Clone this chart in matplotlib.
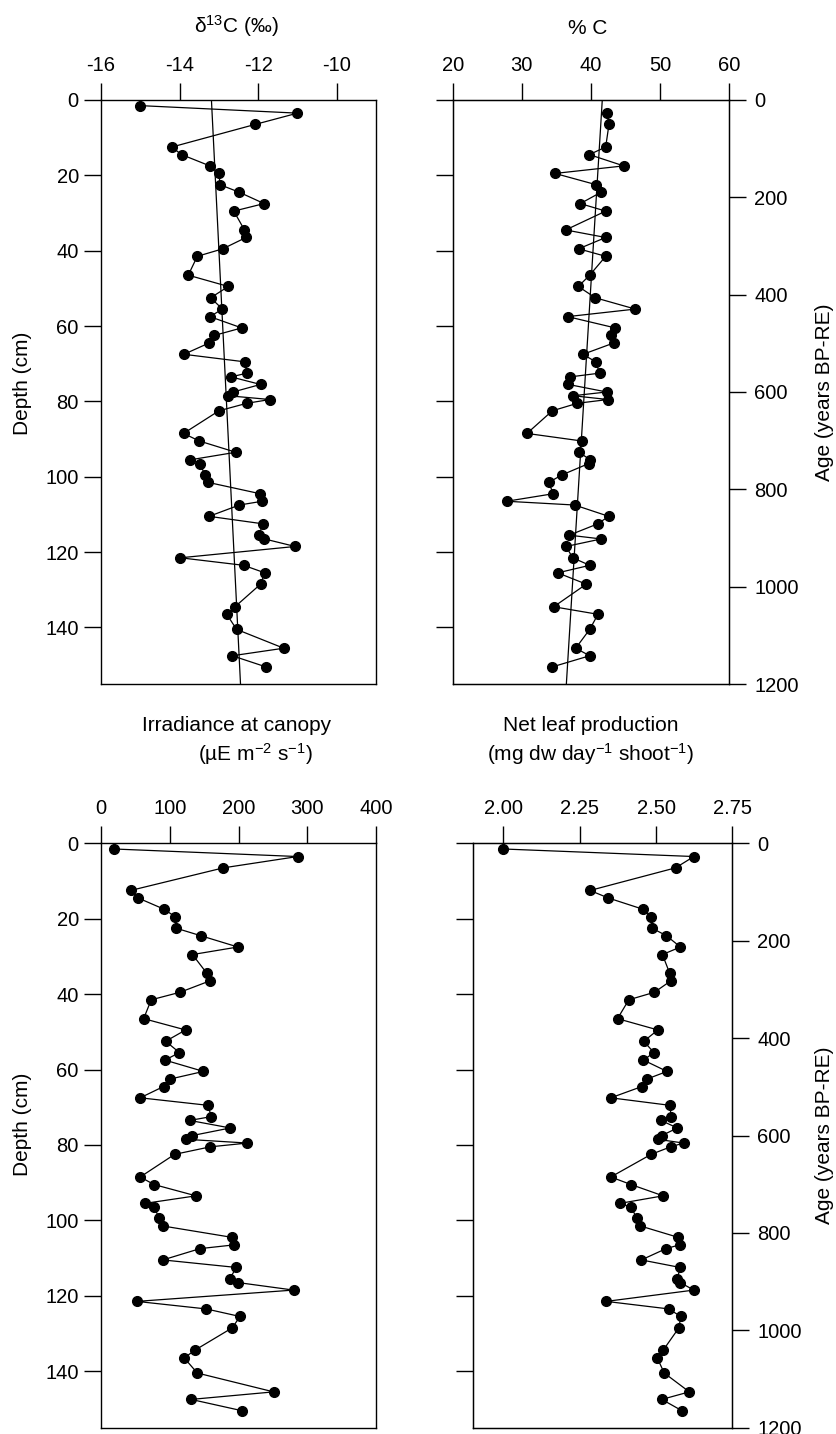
import numpy as np
import matplotlib
matplotlib.use('Agg')
import matplotlib.pyplot as plt

plt.rcParams['font.family'] = ['Liberation Sans', 'DejaVu Sans']
plt.rcParams['mathtext.fontset'] = 'custom'
plt.rcParams['mathtext.rm'] = 'Liberation Sans'
plt.rcParams['mathtext.it'] = 'Liberation Sans:italic'
plt.rcParams['axes.unicode_minus'] = False
plt.rcParams['font.size'] = 15
plt.rcParams['xtick.labelsize'] = 14.5
plt.rcParams['ytick.labelsize'] = 14.5

# sample depths (cm), shared by all panels
depth = [1.5, 3.5, 6.5, 12.5, 14.5, 17.5, 19.5, 22.5, 24.5, 27.5, 29.5, 34.5, 36.5,
         39.5, 41.5, 46.5, 49.5, 52.5, 55.5, 57.5, 60.5, 62.5, 64.5, 67.5, 69.5,
         72.5, 73.5, 75.5, 77.5, 78.5, 79.5, 80.5, 82.5, 88.5, 90.5, 93.5, 95.5,
         96.5, 99.5, 101.5, 104.5, 106.5, 107.5, 110.5, 112.5, 115.5, 116.5, 118.5,
         121.5, 123.5, 125.5, 128.5, 134.5, 136.5, 140.5, 145.5, 147.5, 150.5]

d13c = [-15.01, -11.0, -12.08, -14.2, -13.95, -13.23, -13.0, -12.97, -12.48, -11.85,
        -12.62, -12.35, -12.31, -12.9, -13.55, -13.78, -12.76, -13.21, -12.91, -13.23,
        -12.42, -13.12, -13.25, -13.89, -12.34, -12.29, -12.69, -11.94, -12.64, -12.76,
        -11.70, -12.29, -13.0, -13.9, -13.5, -12.57, -13.73, -13.49, -13.35, -13.27,
        -11.95, -11.9, -12.48, -13.25, -11.87, -11.99, -11.84, -11.06, -13.98, -12.37,
        -11.83, -11.94, -12.59, -12.80, -12.55, -11.35, -12.66, -11.79]

# %C has no value for the first depth
pct_c = [42.33, 42.62, 42.14, 39.77, 44.75, 34.8, 40.78, 41.46, 38.47, 42.14, 36.35,
         42.14, 38.23, 42.14, 39.83, 38.18, 40.64, 46.43, 36.64, 43.53, 42.95, 43.3,
         38.86, 40.7, 41.27, 36.98, 36.73, 42.29, 37.41, 42.48, 38.04, 34.41, 30.75,
         38.67, 38.28, 39.91, 39.68, 35.82, 33.89, 34.56, 27.81, 37.65, 42.58, 40.98,
         36.87, 41.5, 36.4, 37.37, 39.83, 35.2, 39.33, 34.62, 41.03, 39.83, 37.8,
         39.83, 34.33]

irradiance = [19, 286, 178, 43, 54, 92, 108, 109, 145, 199, 133, 154, 158, 115, 73, 62,
              123, 94, 114, 93, 149, 101, 91, 57, 156, 160, 129, 188, 133, 123, 213, 159,
              107, 57, 77, 138, 64, 77, 85, 90, 190, 194, 144, 90, 197, 187, 199, 280, 52,
              153, 202, 191, 136, 121, 140, 251, 131, 205]

leaf_prod = [2.00, 2.624, 2.564, 2.284, 2.344, 2.458, 2.485, 2.487, 2.534, 2.58, 2.521,
             2.545, 2.548, 2.495, 2.411, 2.374, 2.506, 2.46, 2.493, 2.459, 2.536, 2.471,
             2.454, 2.352, 2.546, 2.549, 2.516, 2.57, 2.519, 2.505, 2.59, 2.548, 2.484,
             2.352, 2.418, 2.523, 2.382, 2.418, 2.438, 2.449, 2.572, 2.577, 2.533, 2.452,
             2.579, 2.57, 2.579, 2.624, 2.337, 2.542, 2.581, 2.575, 2.523, 2.504, 2.527,
             2.609, 2.519, 2.585]

# fitted trend lines (top panels)
trend_depth = [0, 155]
d13c_trend = [-13.19, -12.45]
pct_c_trend = [41.65, 36.45]

depth_ticks = [0, 20, 40, 60, 80, 100, 120, 140]
age_ticks = [0, 200, 400, 600, 800, 1000, 1200]

fig = plt.figure(figsize=(8.37, 14.34), dpi=100)


def setup(ax, xlim, xticks, left_labels=True):
    ax.set_xlim(xlim)
    ax.set_ylim(155, 0)
    ax.xaxis.tick_top()
    ax.set_xticks(xticks)
    ax.set_yticks(depth_ticks)
    ax.tick_params(axis='x', direction='out', length=12, width=1, pad=6)
    ax.tick_params(axis='y', direction='out', length=12, width=1, pad=4,
                   labelleft=left_labels)
    for s in ax.spines.values():
        s.set_linewidth(1)


def add_age(ax, xpos):
    axr = ax.twinx()
    axr.set_ylim(1200, 0)
    axr.set_yticks(age_ticks)
    axr.tick_params(axis='y', direction='out', length=12, width=1, pad=6)
    axr.set_ylabel('Age (years BP-RE)')
    axr.yaxis.set_label_coords(xpos, 0.5)
    return axr


line_kw = dict(color='k', lw=0.9, marker='o', ms=7, clip_on=False)

ax1 = fig.add_axes([0.1207, 0.523, 0.3286, 0.4073])
setup(ax1, (-16, -9), [-16, -14, -12, -10])
ax1.plot(d13c, depth, **line_kw)
ax1.plot(d13c_trend, trend_depth, color='k', lw=0.9)
ax1.set_ylabel('Depth (cm)')
ax1.yaxis.set_label_coords(-0.25, 0.515)

ax2 = fig.add_axes([0.5409, 0.523, 0.3301, 0.4073])
setup(ax2, (20, 60), [20, 30, 40, 50, 60], left_labels=False)
ax2.plot(pct_c, depth[1:], **line_kw)
ax2.plot(pct_c_trend, trend_depth, color='k', lw=0.9)
add_age(ax2, 1.311)

ax3 = fig.add_axes([0.1207, 0.0044, 0.3286, 0.4075])
setup(ax3, (0, 400), [0, 100, 200, 300, 400])
ax3.plot(irradiance, depth, **line_kw)
ax3.set_ylabel('Depth (cm)')
ax3.yaxis.set_label_coords(-0.25, 0.52)

ax4 = fig.add_axes([0.5648, 0.0044, 0.3102, 0.4075])
setup(ax4, (1.9, 2.75), [2.00, 2.25, 2.50, 2.75], left_labels=False)
ax4.set_xticklabels(['2.00', '2.25', '2.50', '2.75'])
ax4.plot(leaf_prod, depth, **line_kw)
add_age(ax4, 1.319)

fig.text(0.283, 0.9768, r'δ$^{13}$C (‰)', ha='center', va='baseline')
fig.text(0.7025, 0.976, '% C', ha='center', va='baseline')
fig.text(0.283, 0.4905, 'Irradiance at canopy', ha='center', va='baseline')
fig.text(0.3047, 0.4693, r'(µE m$^{-2}$ s$^{-1}$)', ha='center', va='baseline')
fig.text(0.7061, 0.4905, 'Net leaf production', ha='center', va='baseline')
fig.text(0.7061, 0.4693, r'(mg dw day$^{-1}$ shoot$^{-1}$)', ha='center', va='baseline')

fig.savefig('out.png', dpi=100)
